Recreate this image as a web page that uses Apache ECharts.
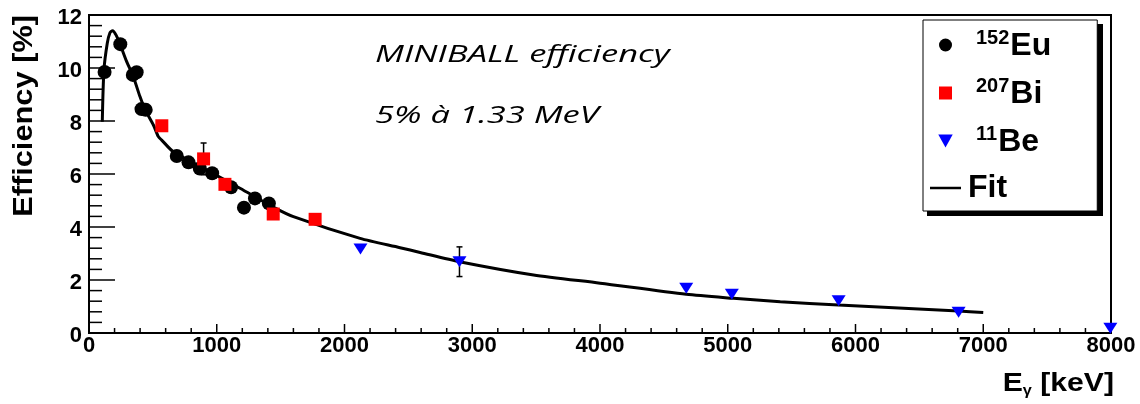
<!DOCTYPE html>
<html><head><meta charset="utf-8">
<script src="https://cdn.jsdelivr.net/npm/echarts@6/dist/echarts.min.js"></script>
<style>html,body{margin:0;padding:0;background:#fff}#c{width:1140px;height:404px}</style>
</head><body><div id="c"></div>
<script>
// Energies in keV, efficiencies in %
const eu152 = [[122,9.85],[245,10.9],[343,9.74],[373,9.84],[411,8.45],[444,8.42],[687,6.68],[779,6.44],[867,6.21],[964,6.03],[1112,5.5],[1213,4.73],[1299,5.08],[1408,4.89]];
const bi207 = [[570,7.82],[897,6.57],[1064,5.61],[1442,4.49],[1770,4.29]];
const be11 = [[2125,3.17],[2900,2.69],[4675,1.69],[5032,1.46],[5868,1.22],[6807,0.78],[7995,0.18]];
const errBars = [[897,6.57,0.6],[2900,2.69,0.56]];
const fit = [[104,7.97],[117,9.92],[143,10.93],[164,11.33],[185,11.41],[211,11.25],[243,10.9],[295,10.24],[347,9.67],[399,8.92],[438,8.44],[504,7.85],[543,7.41],[569,7.28],[660,6.84],[921,6.15],[1182,5.46],[1443,4.75],[1600,4.39],[2122,3.57],[2435,3.22],[2592,3.04],[2900,2.69],[3480,2.19],[4001,1.88],[4675,1.46],[5045,1.31],[5411,1.18],[5868,1.06],[6807,0.83],[7000,0.77]];
const xMajorTicks = [0,1000,2000,3000,4000,5000,6000,7000,8000];
const xMinorTicks = [200,400,600,800,1200,1400,1600,1800,2200,2400,2600,2800,3200,3400,3600,3800,4200,4400,4600,4800,5200,5400,5600,5800,6200,6400,6600,6800,7200,7400,7600,7800];
const yMajorTicks = [0,2,4,6,8,10,12];
const yMinorTicks = [0.4,0.8,1.2,1.6,2.4,2.8,3.2,3.6,4.4,4.8,5.2,5.6,6.4,6.8,7.2,7.6,8.4,8.8,9.2,9.6,10.4,10.8,11.2,11.6];
const legendLabels = {Eu:['152','Eu'], Bi:['207','Bi'], Be:['11','Be'], Fit:['','Fit']};
const annot1 = 'MINIBALL efficiency';
const annot2 = '5% à 1.33 MeV';

const F = 'Liberation Sans, Arial, sans-serif';
function tickSeries(values, dir, len){
  return {type:'custom',silent:true,z:0,data:values.map(v=>[v]),legendHoverLink:false,
    renderItem:function(p,api){
      const v=api.value(0);
      const st={stroke:'#000',lineWidth:1.5};
      if(dir==='x'){const a=api.coord([v,0]);return {type:'line',shape:{x1:a[0],y1:a[1],x2:a[0],y2:a[1]-len},style:st};}
      const a=api.coord([0,v]);return {type:'line',shape:{x1:a[0],y1:a[1],x2:a[0]+len,y2:a[1]},style:st};
    }};
}
const chart = echarts.init(document.getElementById('c'), null, {renderer:'canvas'});
chart.setOption({
  animation:false,
  backgroundColor:'#fff',
  grid:{left:89,right:29,top:15,bottom:71,show:true,borderColor:'#000',borderWidth:2,backgroundColor:'transparent'},
  xAxis:{type:'value',min:0,max:8000,interval:1000,
    axisLine:{show:true,lineStyle:{color:'#000',width:2}},
    axisTick:{show:false},minorTick:{show:false},splitLine:{show:false},
    axisLabel:{color:'#000',fontFamily:F,fontWeight:'bold',fontSize:22,margin:2,formatter:function(v){return String(v);}}},
  yAxis:{type:'value',min:0,max:12,interval:2,
    axisLine:{show:true,lineStyle:{color:'#000',width:2}},
    axisTick:{show:false},minorTick:{show:false},splitLine:{show:false},
    axisLabel:{color:'#000',fontFamily:F,fontWeight:'bold',fontSize:22,margin:7,verticalAlign:'top',lineHeight:6}},
  legend:{orient:'vertical',left:923,top:20,z:5,
    padding:[8,46,7,7],itemGap:14,itemWidth:31,itemHeight:13,
    backgroundColor:'#fff',borderColor:'#000',borderWidth:1,
    data:[
      {name:'Eu',icon:'circle'},
      {name:'Bi',icon:'path://M0,0 L13,0 L13,13 L0,13 Z'},
      {name:'Be',icon:'path://M0,0 L10,0 L5,9 Z'},
      {name:'Fit',icon:'path://M0,0 L31,0 L31,2.5 L0,2.5 Z'}],
    formatter:function(n){const l=legendLabels[n];return l[0]?'{s|'+l[0]+'}{m|'+l[1]+'}':'{f|'+l[1]+'}';},
    textStyle:{color:'#000',fontFamily:F,fontWeight:'bold',
      rich:{s:{fontSize:20,fontFamily:F,fontWeight:'bold',verticalAlign:'top',lineHeight:34,padding:[0,1,0,10]},
            m:{fontSize:32,fontFamily:F,fontWeight:'bold',verticalAlign:'bottom',lineHeight:34},
            f:{fontSize:32,fontFamily:F,fontWeight:'bold',lineHeight:34,padding:[0,0,0,2]}}}},
  graphic:[
    {type:'rect',z:1,shape:{x:927,y:24,width:176,height:192},style:{fill:'#000'}},
    {type:'text',x:375,y:55,scaleX:1.47,style:{text:annot1,font:'italic 23.5px "Open Sans"',fill:'#000',textVerticalAlign:'middle'}},
    {type:'text',x:375,y:116,scaleX:1.47,style:{text:annot2,font:'italic 23.5px "Open Sans"',fill:'#000',textVerticalAlign:'middle'}},
    {type:'text',x:25,y:15,rotation:Math.PI/2,scaleX:1.14,style:{text:'Efficiency [%]',font:'bold 27px '+F,fill:'#000',textAlign:'right',textVerticalAlign:'middle'}},
    {type:'text',x:1114,y:384,scaleX:1.16,style:{rich:{e:{font:'bold 26px '+F,fill:'#000'},g:{font:'bold 14px '+F,fill:'#000',padding:[14,0,0,0]},k:{font:'bold 26px '+F,fill:'#000'}},text:'{e|E}{g|γ}{k| [keV]}',textAlign:'right',textVerticalAlign:'middle'}}
  ],
  series:[
    tickSeries(xMajorTicks,'x',9),
    tickSeries(xMinorTicks,'x',5),
    tickSeries(yMajorTicks,'y',26),
    tickSeries(yMinorTicks,'y',13),
    {type:'custom',name:'err',z:1,data:errBars,
      renderItem:function(p,api){
        const x=api.value(0),y=api.value(1),e=api.value(2);
        const a=api.coord([x,y+e]),b=api.coord([x,y-e]);
        const st={stroke:'#000',lineWidth:1.5};
        return {type:'group',children:[
          {type:'line',shape:{x1:a[0],y1:a[1],x2:b[0],y2:b[1]},style:st},
          {type:'line',shape:{x1:a[0]-3,y1:a[1],x2:a[0]+3,y2:a[1]},style:st},
          {type:'line',shape:{x1:b[0]-3,y1:b[1],x2:b[0]+3,y2:b[1]},style:st}]};
      }},
    {type:'line',name:'Fit',data:fit,showSymbol:false,smooth:0.25,z:2,lineStyle:{color:'#000',width:3},itemStyle:{color:'#000'}},
    {type:'scatter',name:'Eu',data:eu152,symbol:'circle',symbolSize:14,z:3,itemStyle:{color:'#000',opacity:1}},
    {type:'scatter',name:'Bi',data:bi207,symbol:'rect',symbolSize:13,z:3,itemStyle:{color:'#ff0000',opacity:1}},
    {type:'scatter',name:'Be',data:be11,symbol:'triangle',symbolRotate:180,symbolSize:[14,11],z:3,itemStyle:{color:'#0000ff',opacity:1}}
  ]
});
</script></body></html>
